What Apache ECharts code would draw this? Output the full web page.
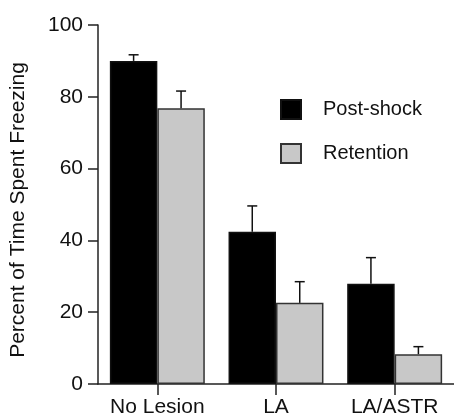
<!DOCTYPE html>
<html><head><meta charset="utf-8">
<script src="https://cdn.jsdelivr.net/npm/echarts@6/dist/echarts.min.js"></script>
<style>html,body{margin:0;padding:0;background:#fff}#c{width:454px;height:419px}</style>
</head><body><div id="c"></div>
<script>
const categories = ['No Lesion', 'LA', 'LA/ASTR'];
const seriesNames = ['Post-shock', 'Retention'];
const postShock = [90, 42.4, 27.9];
const postShockErr = [1.7, 7.2, 7.3];
const retention = [76.8, 22.6, 8.3];
const retentionErr = [4.8, 5.9, 2.1];
const yTicks = [0, 20, 40, 60, 80, 100];
const yTitle = 'Percent of Time Spent Freezing';

const FONT = '"Liberation Sans", Arial, Helvetica, sans-serif';
const chart = echarts.init(document.getElementById('c'), null, {renderer: 'canvas'});

function errSeries(vals, errs, off) {
  return {
    type: 'custom',
    silent: true,
    z: 5,
    data: vals.map((v, i) => [i, v, errs[i]]),
    encode: {x: 0, y: 1},
    renderItem: (params, api) => {
      const x = api.value(0), v = api.value(1), e = api.value(2);
      const base = api.coord([x, v]);
      const top = api.coord([x, v + e]);
      const bw = api.size([1, 0])[0];
      const cx = base[0] + off * bw;
      const st = {stroke: '#111', lineWidth: 1.5};
      return {type: 'group', children: [
        {type: 'line', shape: {x1: cx, y1: base[1], x2: cx, y2: top[1]}, style: st},
        {type: 'line', shape: {x1: cx - 5, y1: top[1], x2: cx + 5, y2: top[1]}, style: st}
      ]};
    }
  };
}

chart.setOption({
  animation: false,
  textStyle: {fontFamily: FONT},
  grid: {left: 98, top: 25, bottom: 35, width: 358},
  graphic: [{
    type: 'text', x: 18, y: 210, rotation: Math.PI / 2,
    style: {text: yTitle, font: '21px ' + FONT, fill: '#111', align: 'center', verticalAlign: 'middle'}
  }],
  legend: {
    orient: 'vertical', left: 280, top: 99, padding: 0,
    icon: 'rect',
    itemWidth: 20, itemHeight: 19, itemGap: 23,
    textStyle: {fontSize: 20, color: '#111', fontFamily: FONT, padding: [0, 0, 0, 17]},
    data: seriesNames
  },
  xAxis: {
    type: 'category', data: categories,
    axisLine: {show: true, lineStyle: {color: '#222', width: 1.5}},
    axisTick: {show: true, alignWithLabel: true, interval: 0, inside: false, length: 11,
      lineStyle: {color: '#222', width: 1.5}},
    axisLabel: {fontSize: 21, color: '#111', margin: 13, interval: 0, hideOverlap: false, fontFamily: FONT}
  },
  yAxis: {
    type: 'value', min: 0, max: 100, interval: 20,
    axisLine: {show: true, lineStyle: {color: '#222', width: 1.5}},
    axisTick: {show: true, length: 10, lineStyle: {color: '#222', width: 1.5}},
    axisLabel: {fontSize: 21, color: '#111', margin: 15, fontFamily: FONT,
      formatter: v => yTicks.includes(v) ? String(v) : ''},
    splitLine: {show: false}
  },
  series: [
    {name: seriesNames[0], type: 'bar', data: postShock, barWidth: '40%', barGap: '0%',
      itemStyle: {color: '#000', borderColor: '#111', borderWidth: 1.5}},
    {name: seriesNames[1], type: 'bar', data: retention, barWidth: '40%', barGap: '0%',
      itemStyle: {color: '#c8c8c8', borderColor: '#333', borderWidth: 1.5}},
    errSeries(postShock, postShockErr, -0.2),
    errSeries(retention, retentionErr, 0.2)
  ]
});
</script></body></html>
